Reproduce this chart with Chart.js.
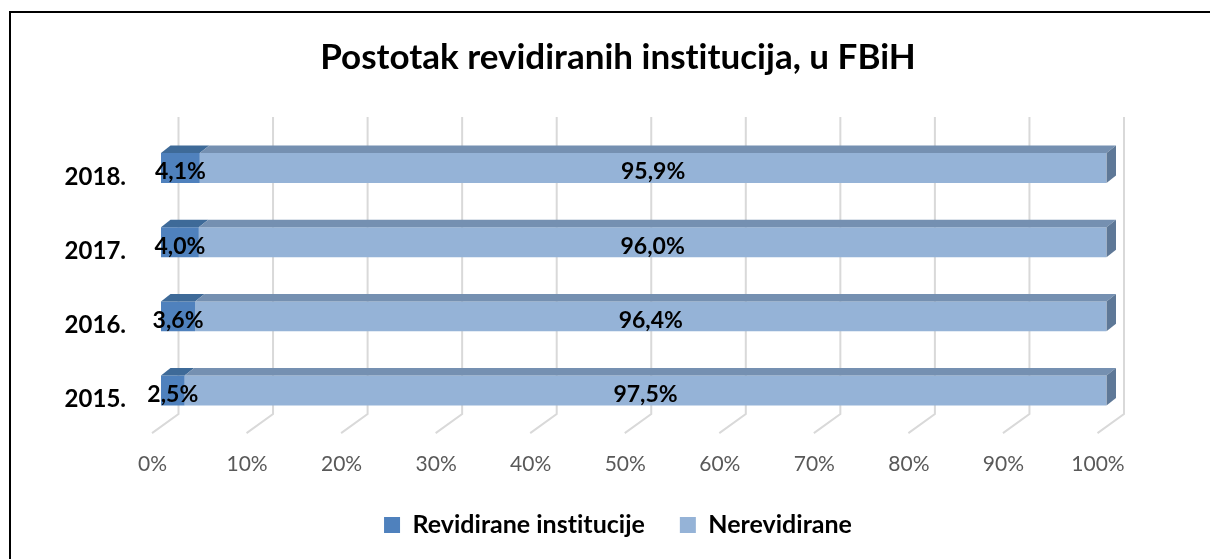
<!DOCTYPE html>
<html>
<head>
<meta charset="utf-8">
<script src="https://cdn.jsdelivr.net/npm/chart.js@4.4.1/dist/chart.umd.min.js"></script>
<style>
html, body { margin: 0; padding: 0; background: #ffffff; }
#wrap { position: relative; width: 1210px; height: 559px; overflow: hidden; }
#frame { position: absolute; left: 9px; top: 11px; width: 1400px; height: 800px; border: 2px solid #000; box-sizing: border-box; }
#c { position: absolute; left: 0; top: 0; font-variant-ligatures: none; }
</style>
</head>
<body>
<div id="wrap">
  <div id="frame"></div>
  <canvas id="c" width="1210" height="559"></canvas>
</div>
<script>
// ---- data ----
const categories = ['2015.', '2016.', '2017.', '2018.'];
const revidirane = [2.5, 3.6, 4.0, 4.1];
const nerevidirane = [97.5, 96.4, 96.0, 95.9];
const seriesNames = ['Revidirane institucije', 'Nerevidirane'];
const xTickValues = [0, 10, 20, 30, 40, 50, 60, 70, 80, 90, 100];
const titleText = 'Postotak revidiranih institucija, u FBiH';

// ---- styles ----
const frontColors = ['#4F81BD', '#95B3D7'];
const topColors = ['#3E6A98', '#7590B1'];
const sideColor = '#5E7897';
const FONT = 'Lato, "Open Sans", sans-serif';
const DX = 9.5, DY = 7.5;

const fmt = v => v.toFixed(1).replace('.', ',') + '%';

const noLigatures = {
  id: 'noLigatures',
  beforeDraw(chart) {
    try { chart.ctx.textRendering = 'optimizeSpeed'; } catch (e) {}
  }
};

const threeD = {
  id: 'threeD',
  beforeDatasetsDraw(chart) {
    const ctx = chart.ctx;
    const xs = chart.scales.x;
    const area = chart.chartArea;
    ctx.save();
    ctx.strokeStyle = '#D9D9D9';
    ctx.lineWidth = 2;
    xTickValues.forEach(v => {
      const p = xs.getPixelForValue(v);
      ctx.beginPath();
      ctx.moveTo(p + 17.5, area.top - 14);
      ctx.lineTo(p + 17.5, area.bottom - 13.5);
      ctx.lineTo(p - 9, area.bottom + 5.5);
      ctx.stroke();
    });
    ctx.restore();
  },
  afterDatasetsDraw(chart) {
    const ctx = chart.ctx;
    ctx.save();
    const n = chart.data.datasets.length;
    for (let d = 0; d < n; d++) {
      const meta = chart.getDatasetMeta(d);
      meta.data.forEach(el => {
        const left = Math.min(el.base, el.x), right = Math.max(el.base, el.x);
        const top = el.y - el.height / 2, bottom = el.y + el.height / 2;
        ctx.fillStyle = topColors[d];
        ctx.beginPath();
        ctx.moveTo(left, top);
        ctx.lineTo(right, top);
        ctx.lineTo(right + DX, top - DY);
        ctx.lineTo(left + DX, top - DY);
        ctx.closePath();
        ctx.fill();
        if (d === n - 1) {
          ctx.fillStyle = sideColor;
          ctx.beginPath();
          ctx.moveTo(right, top);
          ctx.lineTo(right + DX, top - DY);
          ctx.lineTo(right + DX, bottom - DY);
          ctx.lineTo(right, bottom);
          ctx.closePath();
          ctx.fill();
        }
      });
    }
    // data labels
    ctx.fillStyle = '#000';
    ctx.font = 'bold 23px ' + FONT;
    ctx.textAlign = 'center';
    ctx.textBaseline = 'middle';
    for (let d = 0; d < n; d++) {
      const meta = chart.getDatasetMeta(d);
      const vals = chart.data.datasets[d].data;
      meta.data.forEach((el, i) => {
        const cx = (el.base + el.x) / 2;
        ctx.fillText(fmt(vals[i]), cx, el.y + 4);
      });
    }
    ctx.restore();
  }
};

new Chart(document.getElementById('c'), {
  type: 'bar',
  data: {
    labels: categories,
    datasets: [
      { label: seriesNames[0], data: revidirane, backgroundColor: frontColors[0], borderWidth: 0 },
      { label: seriesNames[1], data: nerevidirane, backgroundColor: frontColors[1], borderWidth: 0 }
    ]
  },
  options: {
    indexAxis: 'y',
    responsive: false,
    devicePixelRatio: 1,
    animation: false,
    layout: { padding: { left: 26, right: 0, top: 0, bottom: 11.5 } },
    datasets: { bar: { categoryPercentage: 1, barPercentage: 0.404 } },
    scales: {
      x: {
        stacked: true,
        min: 0, max: 100,
        afterFit: s => { s.height = 49.9; },
        afterBuildTicks: s => { s.ticks = xTickValues.map(v => ({ value: v })); },
        grid: { display: false, drawTicks: false },
        border: { display: false },
        ticks: {
          callback: v => v + '%',
          color: '#595959',
          font: { family: FONT, size: 21 },
          padding: 24,
          labelOffset: -8.5,
          maxRotation: 0,
          autoSkip: false
        }
      },
      y: {
        stacked: true,
        reverse: true,
        afterFit: s => { s.width = 135; },
        grid: { display: false, drawTicks: false },
        border: { display: false },
        ticks: {
          color: '#000',
          font: { family: FONT, size: 24, weight: 'bold' },
          padding: 35,
          labelOffset: 9
        }
      },
      yR: {
        type: 'category',
        position: 'right',
        afterFit: s => { s.width = 103.5; },
        grid: { display: false, drawTicks: false },
        border: { display: false },
        ticks: { display: false }
      }
    },
    plugins: {
      title: {
        display: true,
        text: titleText,
        color: '#000',
        font: { family: FONT, size: 35, weight: 'bold' },
        padding: { top: 36.6, bottom: 52.4 }
      },
      legend: {
        position: 'bottom',
        labels: {
          boxWidth: 16, boxHeight: 16,
          color: '#000',
          font: { family: FONT, size: 25, weight: 'bold' },
          padding: 35
        }
      },
      tooltip: { enabled: false }
    }
  },
  plugins: [noLigatures, threeD]
});
</script>
</body>
</html>
